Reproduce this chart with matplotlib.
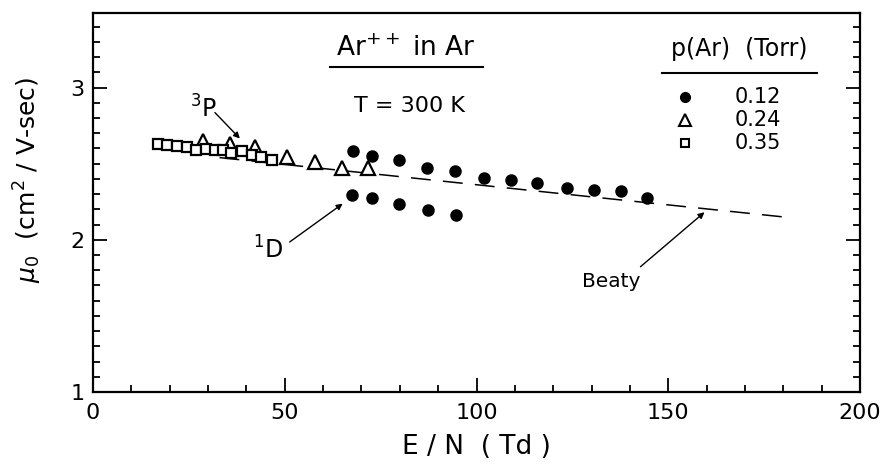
import matplotlib
matplotlib.use("Agg")
import matplotlib.pyplot as plt
from matplotlib.ticker import MultipleLocator

# 0.12 Torr (filled circles), upper and lower branches
p012_x = [67.9, 72.8, 79.8, 87.0, 94.4, 102.0, 108.9, 115.9, 123.5, 130.6, 137.7, 144.5]
p012_y = [2.584, 2.551, 2.523, 2.469, 2.451, 2.407, 2.390, 2.371, 2.338, 2.327, 2.318, 2.273]
p012_low_x = [67.6, 72.8, 79.8, 87.3, 94.6]
p012_low_y = [2.292, 2.273, 2.233, 2.196, 2.163]

# 0.24 Torr (open triangles)
p024_x = [28.7, 35.8, 42.3, 50.7, 58.0, 65.0, 71.8]
p024_y = [2.650, 2.630, 2.610, 2.544, 2.508, 2.473, 2.473]

# 0.35 Torr (open squares)
p035_x = [17.0, 19.4, 22.0, 24.4, 26.8, 29.4, 31.8, 34.0, 35.9, 38.9, 41.4, 43.9, 46.6]
p035_y = [2.627, 2.625, 2.616, 2.610, 2.593, 2.595, 2.593, 2.593, 2.567, 2.584, 2.560, 2.545, 2.527]

# Beaty (dashed)
beaty_x = [33, 80, 130, 182]
beaty_y = [2.540, 2.415, 2.282, 2.145]

legend_labels = ["0.12", "0.24", "0.35"]

plt.rcParams['font.family'] = ['DejaVu Sans']
plt.rcParams['mathtext.fontset'] = 'dejavusans'

fig = plt.figure(figsize=(8.81, 4.72), dpi=100)
ax = fig.add_axes([93 / 881, 1 - 392 / 472, 767 / 881, 379 / 472])

ax.plot(beaty_x, beaty_y, color='black', lw=1.1, dashes=(13, 8))
ax.plot(p012_x, p012_y, 'o', color='black', ms=8)
ax.plot(p012_low_x, p012_low_y, 'o', color='black', ms=8)
ax.plot(p024_x, p024_y, '^', mfc='white', mec='black', mew=1.6, ms=10)
ax.plot(p035_x, p035_y, 's', mfc='white', mec='black', mew=1.6, ms=7.5)

ax.set_xlim(0, 200)
ax.set_ylim(1, 3.49)
ax.xaxis.set_major_locator(MultipleLocator(50))
ax.xaxis.set_minor_locator(MultipleLocator(10))
ax.yaxis.set_major_locator(MultipleLocator(1))
ax.yaxis.set_minor_locator(MultipleLocator(0.1))
ax.tick_params(which='both', direction='in', right=True, width=1.3, labelsize=16)
ax.tick_params(which='major', length=10)
ax.tick_params(which='minor', length=5)
ax.tick_params(axis='x', pad=8)
ax.tick_params(axis='y', pad=6)
for s in ax.spines.values():
    s.set_linewidth(1.6)

ax.set_xlabel("E / N  ( Td )", fontsize=19)
ax.xaxis.set_label_coords(0.50, -0.112)
ax.set_ylabel(r"$\mu_0$  (cm$^2$ / V-sec)", fontsize=18)
ax.yaxis.set_label_coords(-0.064, 0.56)

# title block
ax.text(0.408, 0.905, r"Ar$^{++}$ in Ar", transform=ax.transAxes, fontsize=19,
        ha='center', va='center')
ax.plot([0.309, 0.508], [0.858, 0.858], color='black', lw=1.5, transform=ax.transAxes)
ax.text(0.412, 0.755, "T = 300 K", transform=ax.transAxes, fontsize=16,
        ha='center', va='center')

# legend
ax.text(0.842, 0.905, "p(Ar)  (Torr)", transform=ax.transAxes, fontsize=17,
        ha='center', va='center')
ax.plot([0.7415, 0.9435], [0.8425, 0.8425], color='black', lw=1.5, transform=ax.transAxes)
legend_styles = [dict(marker='o', mfc='black', mec='black', ms=7),
                 dict(marker='^', mfc='white', mec='black', mew=1.5, ms=8),
                 dict(marker='s', mfc='white', mec='black', mew=1.5, ms=6)]
for i, (lab, st) in enumerate(zip(legend_labels, legend_styles)):
    yy = 0.779 - i * 0.0605
    ax.plot([0.772], [yy], linestyle='none', transform=ax.transAxes, **st)
    ax.text(0.837, yy, lab, transform=ax.transAxes, fontsize=15, ha='left', va='center')

# annotations
ax.annotate("", xy=(38.8, 2.652), xytext=(31.3, 2.849),
            arrowprops=dict(arrowstyle='-|>', color='black', lw=1, mutation_scale=9))
ax.text(28.7, 2.862, r"$^3$P", fontsize=17, ha='center', va='center')
ax.annotate("", xy=(65.7, 2.248), xytext=(50.7, 1.975),
            arrowprops=dict(arrowstyle='-|>', color='black', lw=1, mutation_scale=9))
ax.text(45.6, 1.931, r"$^1$D", fontsize=17, ha='center', va='center')
ax.annotate("", xy=(160.0, 2.193), xytext=(142.2, 1.811),
            arrowprops=dict(arrowstyle='-|>', color='black', lw=1, mutation_scale=9))
ax.text(135.1, 1.728, "Beaty", fontsize=14.5, ha='center', va='center')

fig.savefig("out.png", dpi=100)
